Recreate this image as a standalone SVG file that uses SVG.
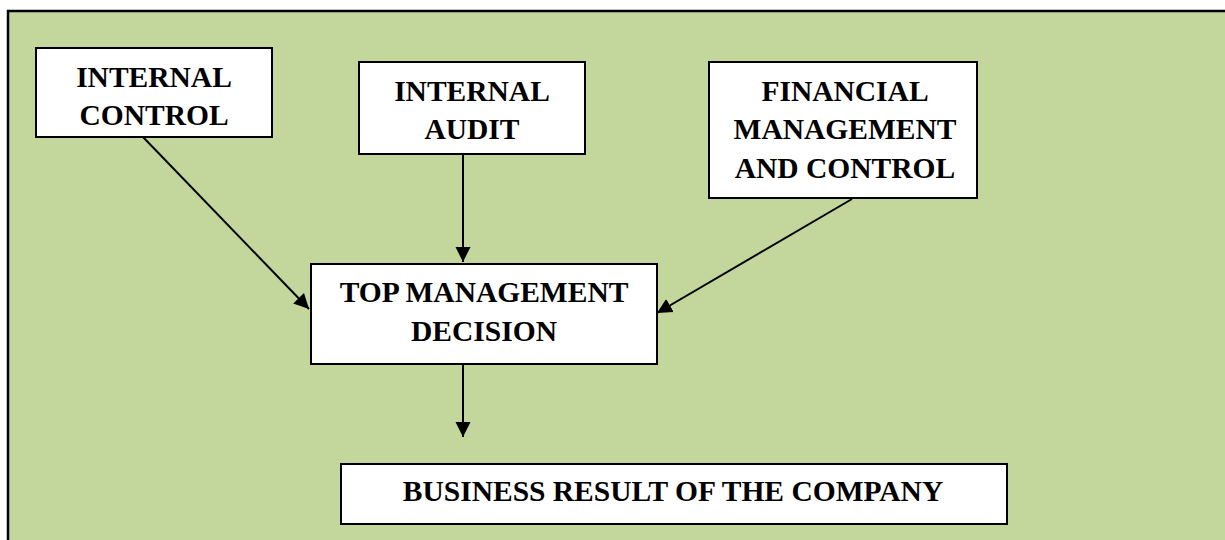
<svg xmlns="http://www.w3.org/2000/svg" width="1225" height="540" viewBox="0 0 1225 540">
  <defs>
    <style>
      .box { fill: #ffffff; stroke: #000000; stroke-width: 2; }
      .lbl { font-family: "Liberation Serif", "Times New Roman", serif; font-weight: bold; font-size: 29.5px; fill: #000000; text-anchor: middle; }
      .conn { stroke: #000000; stroke-width: 2; fill: none; marker-end: url(#arrow); }
    </style>
    <marker id="arrow" markerUnits="userSpaceOnUse" markerWidth="16" markerHeight="16" refX="15" refY="8" orient="auto">
      <path d="M0,0.5 L15,8 L0,15.5 Z" fill="#000000"/>
    </marker>
  </defs>
  <rect x="0" y="0" width="1225" height="540" fill="#ffffff"/>
  <rect x="8" y="11" width="1217" height="529" fill="#c3d69b"/>
  <path d="M8,540 L8,11 L1225,11" fill="none" stroke="#000000" stroke-width="2.5"/>

  <g id="connectors">
    <line class="conn" x1="143" y1="137" x2="309" y2="309"/>
    <line class="conn" x1="463" y1="155" x2="463" y2="262"/>
    <line class="conn" x1="852" y1="199" x2="657" y2="313"/>
    <line class="conn" x1="463" y1="365" x2="463" y2="437"/>
  </g>

  <g id="internal-control">
    <rect class="box" x="36" y="48" width="236" height="89"/>
    <text class="lbl" x="154" y="87">INTERNAL</text>
    <text class="lbl" x="154" y="125">CONTROL</text>
  </g>

  <g id="internal-audit">
    <rect class="box" x="359" y="62" width="226" height="92"/>
    <text class="lbl" x="472" y="101">INTERNAL</text>
    <text class="lbl" x="472" y="139">AUDIT</text>
  </g>

  <g id="financial-management">
    <rect class="box" x="709" y="62" width="268" height="136"/>
    <text class="lbl" x="845" y="101">FINANCIAL</text>
    <text class="lbl" x="845" y="139">MANAGEMENT</text>
    <text class="lbl" x="845" y="178">AND CONTROL</text>
  </g>

  <g id="top-management">
    <rect class="box" x="311" y="264" width="346" height="100"/>
    <text class="lbl" x="484" y="302">TOP MANAGEMENT</text>
    <text class="lbl" x="484" y="341">DECISION</text>
  </g>

  <g id="business-result">
    <rect class="box" x="341" y="464" width="666" height="60"/>
    <text class="lbl" x="673" y="501">BUSINESS RESULT OF THE COMPANY</text>
  </g>
</svg>
